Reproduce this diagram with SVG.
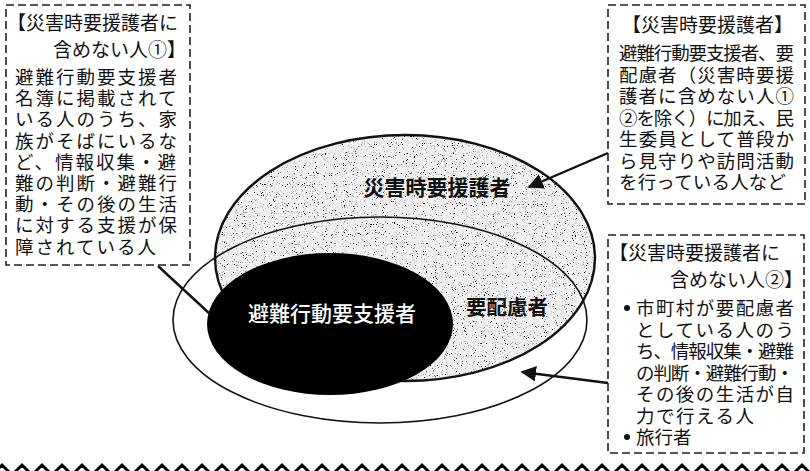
<svg xmlns="http://www.w3.org/2000/svg" width="810" height="471" viewBox="0 0 810 471">
<style>
  .t { font-family: "Noto Sans CJK JP", "Noto Sans", sans-serif; fill: #111; }
  .box { fill: none; stroke: #222; stroke-width: 1.6; stroke-dasharray: 8 4; }
  .conn { stroke: #111; stroke-width: 2.4; fill: none; }
</style>
<defs>
  <marker id="ah" viewBox="0 0 10 10" refX="9" refY="5" markerWidth="6.5" markerHeight="6.5" markerUnits="strokeWidth" orient="auto">
    <path d="M0,0 L10,5 L0,10 z" fill="#111"/>
  </marker>
  <filter id="stipple" x="-2%" y="-2%" width="104%" height="104%">
    <feTurbulence type="fractalNoise" baseFrequency="0.9" numOctaves="4" seed="7" result="noise"/>
    <feColorMatrix in="noise" type="matrix" values="0 0 0 0 0  0 0 0 0 0  0 0 0 0 0  7 0 0 0 -4.3" result="dots"/>
    <feComposite in="dots" in2="SourceGraphic" operator="in" result="clipped"/>
    <feMerge><feMergeNode in="SourceGraphic"/><feMergeNode in="clipped"/></feMerge>
  </filter>
</defs>
<rect width="810" height="471" fill="#fff"/>

<g id="node-saigai">
  <ellipse cx="405" cy="258" rx="190" ry="123" fill="#f0f0f0" filter="url(#stipple)"/>
  <ellipse cx="405" cy="258" rx="190" ry="123" fill="none" stroke="#111" stroke-width="2.4"/>
  <text class="t" x="437" y="195" font-size="21" font-weight="bold" text-anchor="middle">災害時要援護者</text>
</g>
<g id="node-hinan">
  <ellipse cx="330" cy="324" rx="123" ry="71" fill="#000"/>
  <text class="t" x="332" y="321" font-size="21" font-weight="500" text-anchor="middle" style="fill:#fff">避難行動要支援者</text>
</g>
<g id="node-yohairyo">
  <ellipse cx="380" cy="320" rx="207" ry="103" fill="none" stroke="#111" stroke-width="1.6"/>
  <text class="t" x="507" y="315" font-size="20.5" font-weight="bold" text-anchor="middle">要配慮者</text>
</g>

<g id="note-1">
  <rect class="box" x="6" y="5" width="184" height="260"/>
  <text class="t" x="7" y="30" font-size="19">【災害時要援護者に</text>
  <text class="t" x="186" y="57" font-size="19" text-anchor="end">含めない人①】</text>
  <g font-size="18.5" letter-spacing="2">
    <text class="t" x="15" y="84">避難行動要支援者</text>
    <text class="t" x="15" y="105.2">名簿に掲載されて</text>
    <text class="t" x="15" y="126.4">いる人のうち、家</text>
    <text class="t" x="15" y="147.6">族がそばにいるな</text>
    <text class="t" x="15" y="168.8">ど、情報収集・避</text>
    <text class="t" x="15" y="190">難の判断・避難行</text>
    <text class="t" x="15" y="211.2">動・その後の生活</text>
    <text class="t" x="15" y="232.4">に対する支援が保</text>
    <text class="t" x="15" y="253.6">障されている人</text>
  </g>
</g>

<g id="note-saigai">
  <rect class="box" x="608" y="5" width="197" height="199"/>
  <text class="t" x="707.5" y="32" font-size="19" text-anchor="middle">【災害時要援護者】</text>
  <g font-size="18.5">
    <text class="t" x="619" y="60" textLength="175" lengthAdjust="spacing">避難行動要支援者、要</text>
    <text class="t" x="619" y="81.5" textLength="175" lengthAdjust="spacing">配慮者（災害時要援</text>
    <text class="t" x="619" y="103" textLength="175" lengthAdjust="spacing">護者に含めない人①</text>
    <text class="t" x="619" y="124.5" textLength="175" lengthAdjust="spacing">②を除く）に加え、民</text>
    <text class="t" x="619" y="146" textLength="175" lengthAdjust="spacing">生委員として普段か</text>
    <text class="t" x="619" y="167.5" textLength="175" lengthAdjust="spacing">ら見守りや訪問活動</text>
    <text class="t" x="619" y="189" textLength="167" lengthAdjust="spacing">を行っている人など</text>
  </g>
</g>

<g id="note-2">
  <rect class="box" x="608" y="235" width="196" height="218"/>
  <text class="t" x="609" y="260" font-size="19">【災害時要援護者に</text>
  <text class="t" x="803" y="287" font-size="19" text-anchor="end">含めない人②】</text>
  <g font-size="18.5">
    <circle cx="627" cy="308" r="3" fill="#111"/>
    <text class="t" x="636" y="315" textLength="158" lengthAdjust="spacing">市町村が要配慮者</text>
    <text class="t" x="636" y="336.5" textLength="158" lengthAdjust="spacing">としている人のう</text>
    <text class="t" x="636" y="358" textLength="158" lengthAdjust="spacing">ち、情報収集・避難</text>
    <text class="t" x="636" y="379.5" textLength="158" lengthAdjust="spacing">の判断・避難行動・</text>
    <text class="t" x="636" y="401" textLength="158" lengthAdjust="spacing">その後の生活が自</text>
    <text class="t" x="636" y="422.5" textLength="118" lengthAdjust="spacing">力で行える人</text>
    <circle cx="627" cy="437" r="3" fill="#111"/>
    <text class="t" x="636" y="444">旅行者</text>
  </g>
</g>

<g id="connectors">
  <line class="conn" x1="158" y1="266" x2="210" y2="314"/>
  <line class="conn" x1="608" y1="153" x2="529" y2="187" marker-end="url(#ah)"/>
  <line class="conn" x1="608" y1="383" x2="522" y2="372" marker-end="url(#ah)"/>
</g>

<g id="zigzag">
  <polyline fill="none" stroke="#000" stroke-width="3" points="-8,475 2,465 12,475 22,465 32,475 42,465 52,475 62,465 72,475 82,465 92,475 102,465 112,475 122,465 132,475 142,465 152,475 162,465 172,475 182,465 192,475 202,465 212,475 222,465 232,475 242,465 252,475 262,465 272,475 282,465 292,475 302,465 312,475 322,465 332,475 342,465 352,475 362,465 372,475 382,465 392,475 402,465 412,475 422,465 432,475 442,465 452,475 462,465 472,475 482,465 492,475 502,465 512,475 522,465 532,475 542,465 552,475 562,465 572,475 582,465 592,475 602,465 612,475 622,465 632,475 642,465 652,475 662,465 672,475 682,465 692,475 702,465 712,475 722,465 732,475 742,465 752,475 762,465 772,475 782,465 792,475 802,465 812,475 822,465"/>
</g>
</svg>
